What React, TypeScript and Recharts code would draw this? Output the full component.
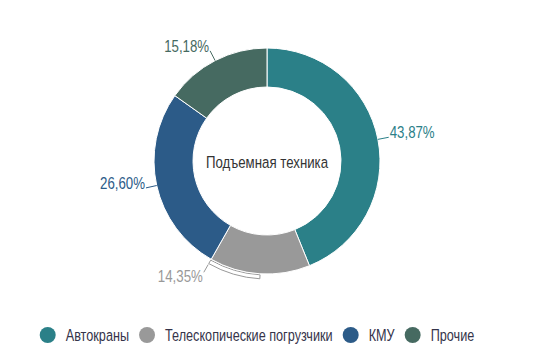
import { PieChart, Pie, Cell, Legend } from 'recharts';

const categories = ['Автокраны', 'Телескопические погрузчики', 'КМУ', 'Прочие'];
const shares = [43.87, 14.35, 26.6, 15.18];
const colors = ['#2b8088', '#999999', '#2c5b88', '#466a61'];
const centerTitle = 'Подъемная техника';

// hover outline under the gray slice (start gap, arc, rest)
const highlightArc = [50.97, 7.25, 41.78];

const FONT = '"Liberation Sans", sans-serif';
const FONT_SIZE = 17;
const NARROW = 0.78; // no condensed font installed, squeeze the regular one
const LEGEND_NARROW = 0.745;
const RAD = Math.PI / 180;

const chartData = categories.map((name, i) => ({ name, value: shares[i] }));
const arcData = highlightArc.map((value, i) => ({ name: 'arc' + i, value }));

const fmt = (v: number) => v.toFixed(2).replace('.', ',') + '%';

let measureCtx: CanvasRenderingContext2D | null = null;
function textWidth(s: string, k: number) {
  if (!measureCtx) {
    measureCtx = document.createElement('canvas').getContext('2d');
  }
  if (!measureCtx) return s.length * 8;
  measureCtx.font = `${FONT_SIZE}px ${FONT}`;
  return measureCtx.measureText(s).width * k;
}

function NarrowText({ x, y, anchor = 'start', color, k = NARROW, children }: any) {
  return (
    <text
      transform={`translate(${x} ${y}) scale(${k} 1)`}
      textAnchor={anchor}
      fill={color}
      fontSize={FONT_SIZE}
      fontFamily={FONT}
    >
      {children}
    </text>
  );
}

function renderLabel(props: any) {
  const { cx, cy, midAngle, endAngle, outerRadius, index, value } = props;
  const special = index === 1;
  const angle = special ? endAngle : midAngle;
  const r0 = special ? outerRadius + 6 : outerRadius;
  const r1 = special ? outerRadius + 15 : outerRadius + 11;
  const cos = Math.cos(-angle * RAD);
  const sin = Math.sin(-angle * RAD);
  const x0 = cx + r0 * cos;
  const y0 = cy + r0 * sin;
  const x1 = cx + r1 * cos;
  const y1 = cy + r1 * sin;
  const right = x1 > cx;
  const color = colors[index];
  return (
    <g>
      <path d={`M${x0},${y0}L${x1},${y1}`} stroke={color} strokeWidth={1} fill="none" />
      <NarrowText
        x={x1 + (right ? 1 : -1)}
        y={y1 + (special ? 10 : 1)}
        anchor={right ? 'start' : 'end'}
        color={color}
      >
        {fmt(value)}
      </NarrowText>
    </g>
  );
}

function LegendContent() {
  const dot = 16;
  const gap = 10;
  const widths = categories.map((c) => textWidth(c, LEGEND_NARROW));
  const total = widths.reduce((a, w) => a + dot + gap + w + gap, 0) + 9;
  let x = (533 - total) / 2;
  const items = categories.map((c, i) => {
    const item = (
      <g key={c}>
        <circle cx={x + dot / 2} cy={10} r={dot / 2} fill={colors[i]} />
        <NarrowText x={x + dot + gap} y={16} color="#35344a" k={LEGEND_NARROW}>
          {c}
        </NarrowText>
      </g>
    );
    x += dot + gap + widths[i] + gap;
    return item;
  });
  return (
    <svg width={533} height={22} style={{ display: 'block' }}>
      {items}
    </svg>
  );
}

export default function App() {
  return (
    <div style={{ position: 'absolute', left: 0, top: 0, width: 533, height: 361, background: '#fff' }}>
      <PieChart width={533} height={361} margin={{ top: 0, right: 0, bottom: 0, left: 0 }}>
        <Pie
          data={arcData}
          dataKey="value"
          cx={267}
          cy={161}
          innerRadius={114}
          outerRadius={118}
          startAngle={90}
          endAngle={-270}
          isAnimationActive={false}
          legendType="none"
        >
          {arcData.map((d, i) => (
            <Cell
              key={d.name}
              fill={i === 1 ? '#ffffff' : 'transparent'}
              stroke={i === 1 ? '#999999' : 'none'}
              strokeWidth={1}
            />
          ))}
        </Pie>
        <Pie
          data={chartData}
          dataKey="value"
          cx={267}
          cy={161}
          innerRadius={74}
          outerRadius={113}
          startAngle={90}
          endAngle={-270}
          stroke="#ffffff"
          strokeWidth={1}
          label={renderLabel}
          labelLine={false}
          isAnimationActive={false}
        >
          {chartData.map((d, i) => (
            <Cell key={d.name} fill={colors[i]} />
          ))}
        </Pie>
        <NarrowText x={267} y={168} anchor="middle" color="#333333">
          {centerTitle}
        </NarrowText>
        <Legend
          wrapperStyle={{ position: 'absolute', left: 0, top: 325, width: 533, height: 22 }}
          content={() => <LegendContent />}
        />
      </PieChart>
    </div>
  );
}
